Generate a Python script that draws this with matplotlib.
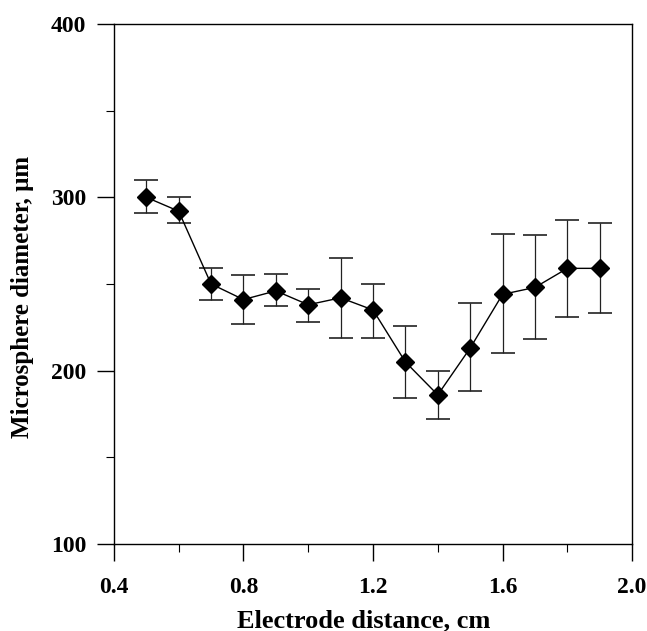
import numpy as np
import matplotlib.pyplot as plt
from matplotlib.ticker import MultipleLocator

# electrode distance (cm) vs microsphere diameter (um)
distance = [0.5, 0.6, 0.7, 0.8, 0.9, 1.0, 1.1, 1.2, 1.3, 1.4, 1.5, 1.6, 1.7, 1.8, 1.9]
diameter = [300, 292, 250, 241, 246, 238, 242, 235, 205, 186, 213, 244, 248, 259, 259]
err_upper = [310, 300, 259, 255, 256, 247, 265, 250, 226, 200, 239, 279, 278, 287, 285]
err_lower = [291, 285, 241, 227, 237, 228, 219, 219, 184, 172, 188, 210, 218, 231, 233]

x = np.array(distance)
y = np.array(diameter)
yerr = np.vstack((y - np.array(err_lower), np.array(err_upper) - y))

plt.rcParams['font.family'] = ['Liberation Serif', 'DejaVu Serif']
plt.rcParams['font.weight'] = 'bold'

fig = plt.figure(figsize=(6.47, 6.31), dpi=100)
ax = fig.add_axes([0.176, 0.138, 0.801, 0.824])

ax.errorbar(x, y, yerr=yerr, fmt='-', color='black', lw=1,
            ecolor='#222222', elinewidth=0.9, capsize=8.5, capthick=1.2,
            marker='D', markersize=9, markerfacecolor='black',
            markeredgecolor='black')

ax.set_xlim(0.4, 2.0)
ax.set_ylim(100, 400)
ax.xaxis.set_minor_locator(MultipleLocator(0.2))
ax.yaxis.set_minor_locator(MultipleLocator(50))
ax.set_xticks([0.4, 0.8, 1.2, 1.6, 2.0])
ax.set_xticklabels(['0.4', '0.8', '1.2', '1.6', '2.0'])
ax.set_yticks([100, 200, 300, 400])
ax.set_yticklabels(['100', '200', '300', '400'])

ax.tick_params(which='major', direction='out', length=12, width=1,
               labelsize=17)
ax.tick_params(axis='x', which='major', pad=12)
ax.tick_params(axis='y', which='major', pad=8)
ax.tick_params(which='minor', direction='out', length=6, width=0.8)
for s in ax.spines.values():
    s.set_linewidth(1)

ax.set_xlabel('Electrode distance, cm', fontsize=19, fontweight='bold')
ax.set_ylabel('Microsphere diameter, \u03bcm', fontsize=18, fontweight='bold')
# labels sit a little off-centre in the original
ax.xaxis.set_label_coords(0.482, -0.125)
ax.yaxis.set_label_coords(-0.155, 0.475)

fig.savefig('out.png', dpi=100)
